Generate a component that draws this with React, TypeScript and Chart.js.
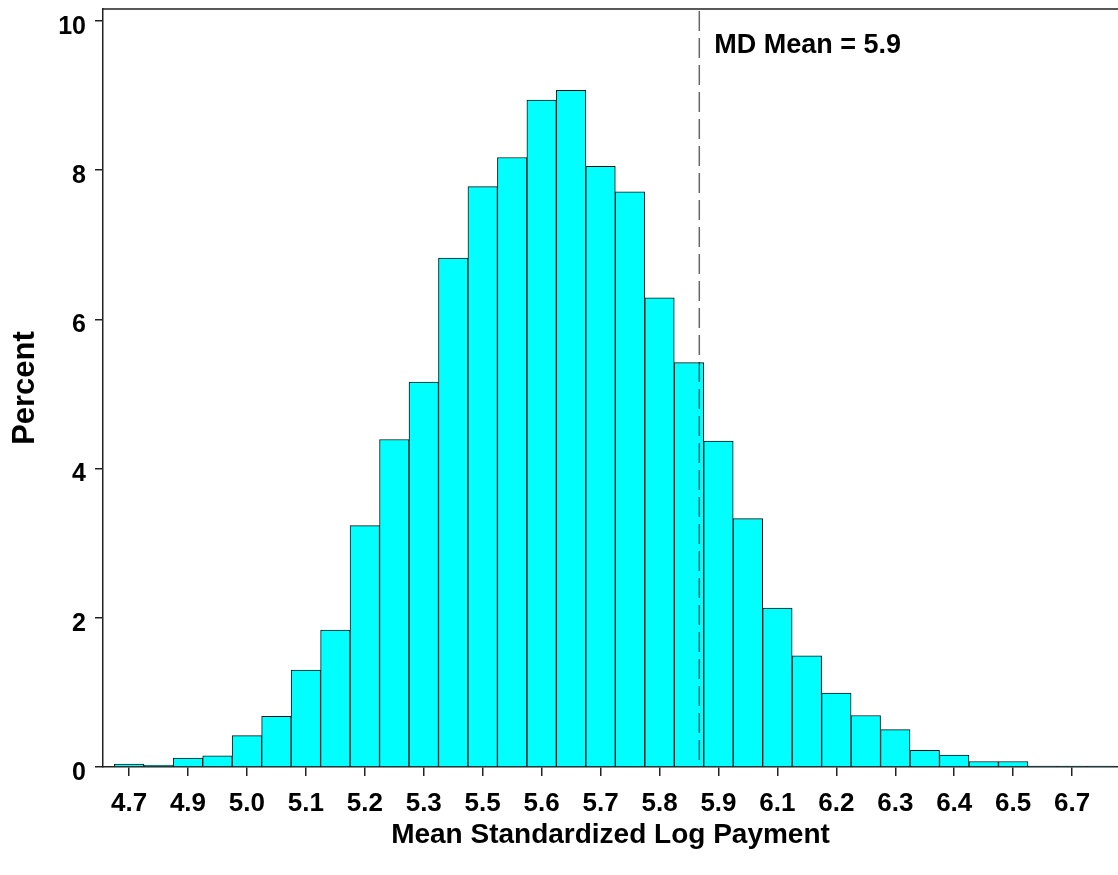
import React, { useEffect, useRef } from "react";
import { Chart, registerables } from "chart.js";

Chart.register(...registerables);

// Histogram bin midpoints (bin width 0.06)
const binMidpoints = [
  4.74, 4.8, 4.86, 4.92, 4.98, 5.04, 5.1, 5.16, 5.22, 5.28, 5.34, 5.4,
  5.46, 5.52, 5.58, 5.64, 5.7, 5.76, 5.82, 5.88, 5.94, 6.0, 6.06, 6.12,
  6.18, 6.24, 6.3, 6.36, 6.42, 6.48, 6.54, 6.6, 6.66, 6.72,
];
// Percent of observations per bin
const percentValues = [
  0.04, 0.024, 0.12, 0.15, 0.42, 0.68, 1.3, 1.835, 3.235, 4.39, 5.16, 6.82,
  7.78, 8.17, 8.94, 9.07, 8.05, 7.71, 6.29, 5.42, 4.37, 3.33, 2.13, 1.49,
  0.99, 0.69, 0.5, 0.225, 0.16, 0.074, 0.074, 0.012, 0.012, 0.012,
];
// Tick positions (every second bin midpoint) and their printed labels
const tickValues = [
  4.74, 4.86, 4.98, 5.1, 5.22, 5.34, 5.46, 5.58, 5.7, 5.82, 5.94, 6.06,
  6.18, 6.3, 6.42, 6.54, 6.66,
];
const tickLabels = [
  "4.7", "4.9", "5.0", "5.1", "5.2", "5.3", "5.5", "5.6", "5.7", "5.8",
  "5.9", "6.1", "6.2", "6.3", "6.4", "6.5", "6.7",
];
const yTickValues = [0, 2, 4, 6, 8, 10];
const mdMean = 5.901;
const mdMeanLabel = "MD Mean = 5.9";
const xTitle = "Mean Standardized Log Payment";
const yTitle = "Percent";

const FONT = "'Liberation Sans', Arial, Helvetica, sans-serif";

export default function App() {
  const ref = useRef<HTMLCanvasElement>(null);

  useEffect(() => {
    const canvas = ref.current;
    if (!canvas) return;

    const meanPlugin = {
      id: "meanLine",
      afterDatasetsDraw(chart: any) {
        const { ctx, chartArea, scales } = chart;
        const x = scales.x.getPixelForValue(mdMean);
        ctx.save();
        // top frame line
        ctx.strokeStyle = "#222";
        ctx.lineWidth = 1.5;
        ctx.beginPath();
        ctx.moveTo(chartArea.left, chartArea.top);
        ctx.lineTo(chartArea.right, chartArea.top);
        ctx.stroke();
        // dashed mean line
        ctx.setLineDash([20, 7]);
        ctx.strokeStyle = "rgba(0,0,0,0.6)";
        ctx.lineWidth = 1.5;
        ctx.beginPath();
        ctx.moveTo(x, chartArea.top + 2);
        ctx.lineTo(x, chartArea.bottom);
        ctx.stroke();
        ctx.setLineDash([]);
        // label
        ctx.fillStyle = "#000";
        ctx.font = `bold 27px ${FONT}`;
        ctx.textBaseline = "alphabetic";
        ctx.textAlign = "left";
        ctx.fillText(mdMeanLabel, x + 15, chartArea.top + 44);
        ctx.restore();
      },
    };

    const chart = new Chart(canvas, {
      type: "bar",
      data: {
        datasets: [
          {
            data: binMidpoints.map((x, i) => ({ x, y: percentValues[i] })),
            backgroundColor: "#00FFFF",
            borderColor: "#111",
            borderWidth: 1,
            categoryPercentage: 1,
            barPercentage: 1,
          },
        ],
      },
      options: {
        responsive: false,
        animation: false,
        layout: { padding: { top: 9, left: 0, right: 0, bottom: 0 } },
        plugins: {
          legend: { display: false },
          tooltip: { enabled: false },
        },
        scales: {
          x: {
            type: "linear",
            min: 4.687,
            max: 6.7534,
            offset: false,
            afterBuildTicks: (s: any) => {
              s.ticks = tickValues.map((v) => ({ value: v }));
            },
            afterFit: (s: any) => {
              s.height = 108;
              s.paddingLeft = 0;
              s.paddingRight = 0;
            },
            grid: {
              display: true,
              offset: false,
              drawOnChartArea: false,
              drawTicks: true,
              tickLength: 9,
              color: "#222",
              lineWidth: 1.5,
            },
            border: { display: true, color: "#222", width: 1.5 },
            ticks: {
              autoSkip: false,
              maxRotation: 0,
              padding: 12,
              color: "#000",
              font: { family: FONT, size: 26, weight: "bold" },
              callback: (_v: any, i: number) => tickLabels[i],
            },
            title: {
              display: true,
              text: xTitle,
              color: "#000",
              font: { family: FONT, size: 28, weight: "bold" },
              padding: { top: 0, bottom: 23 },
            },
          },
          y: {
            type: "linear",
            min: 0,
            max: 10.16,
            afterBuildTicks: (s: any) => {
              s.ticks = yTickValues.map((v) => ({ value: v }));
            },
            afterFit: (s: any) => {
              s.width = 103;
              s.paddingTop = 0;
              s.paddingBottom = 0;
            },
            grid: {
              display: true,
              offset: false,
              drawOnChartArea: false,
              drawTicks: true,
              tickLength: 8,
              color: "#222",
              lineWidth: 1.5,
            },
            border: { display: true, color: "#222", width: 1.5 },
            ticks: {
              padding: 9,
              labelOffset: 6,
              color: "#000",
              font: { family: FONT, size: 25, weight: "bold" },
              callback: (v: any) => String(v),
            },
            title: {
              display: true,
              text: yTitle,
              color: "#000",
              font: { family: FONT, size: 31, weight: "bold" },
              padding: { top: 7, bottom: 0 },
            },
          },
        },
      },
      plugins: [meanPlugin],
    } as any);

    return () => chart.destroy();
  }, []);

  return (
    <div
      style={{
        position: "absolute",
        left: 0,
        top: 0,
        width: 1118,
        height: 875,
        background: "#fff",
      }}
    >
      <canvas ref={ref} width={1118} height={875} style={{ display: "block" }} />
    </div>
  );
}
